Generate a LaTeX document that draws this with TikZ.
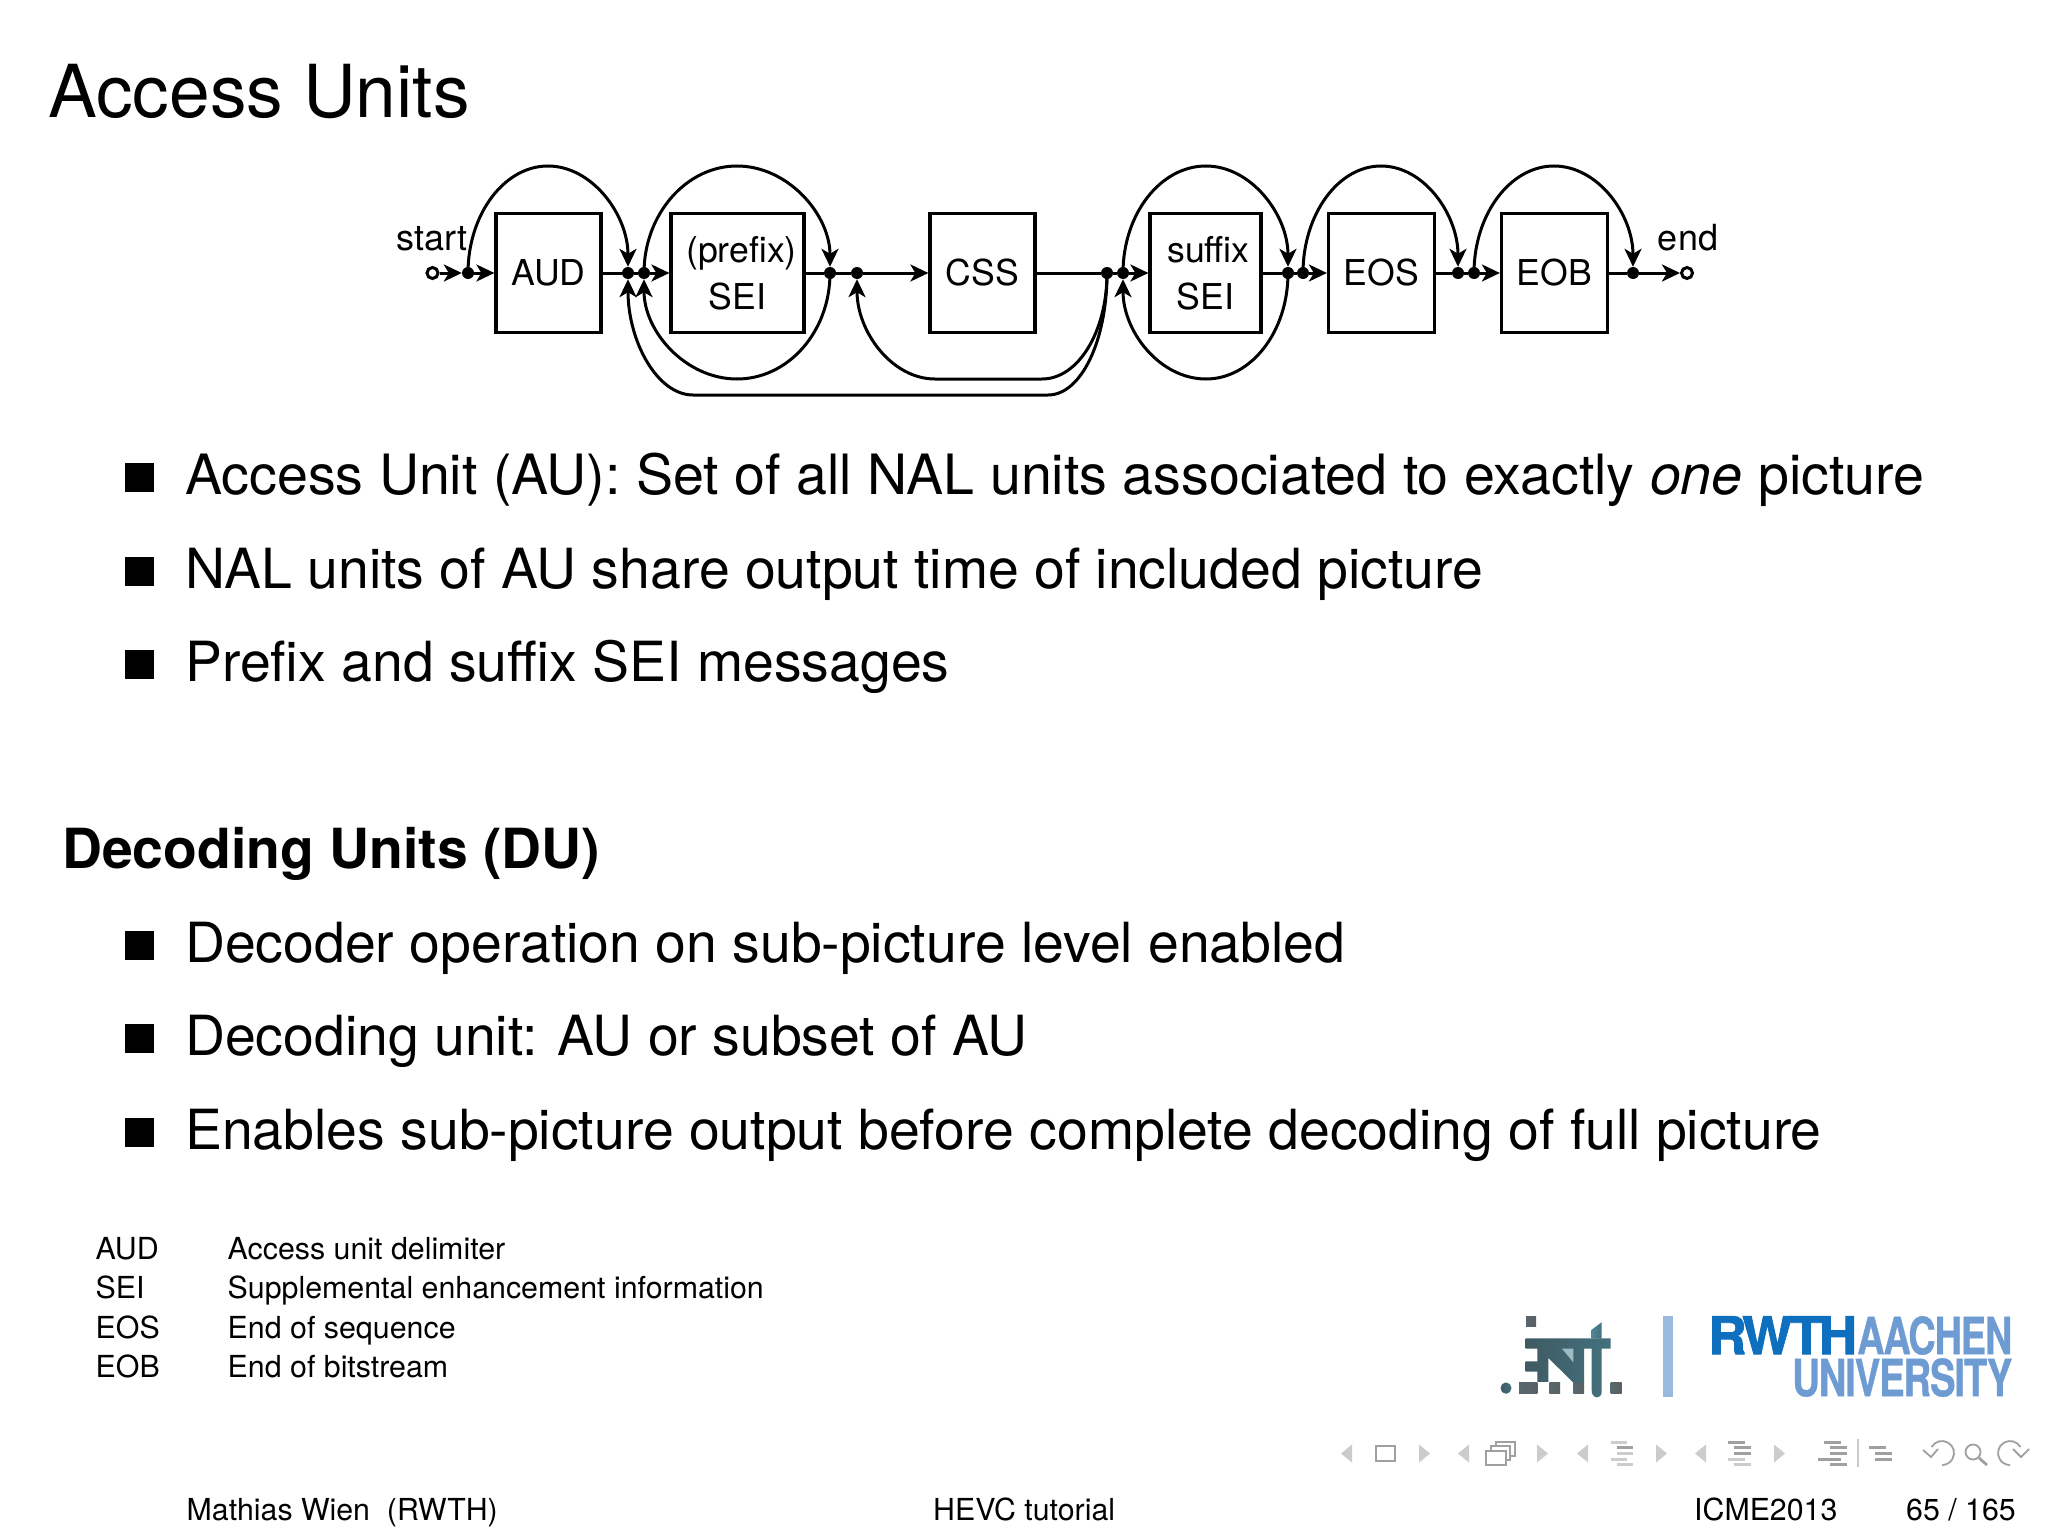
\documentclass[tikz,border=0pt]{standalone}
\usepackage{fontspec}
\usepackage{graphicx}
\setmainfont{TeX Gyre Heros}
\usetikzlibrary{arrows.meta,calc}
\definecolor{rwthdark}{HTML}{0F6FBF}
\definecolor{rwthlight}{HTML}{6E9BD2}
\definecolor{rwthbar}{HTML}{9BB8DD}
\definecolor{navlight}{HTML}{CCCCCC}
\definecolor{navdark}{HTML}{A0A0A0}
\definecolor{logoteal}{HTML}{4F8594}
\definecolor{logogray}{HTML}{5A6064}
\definecolor{logodark}{HTML}{3F5A62}
\tikzset{
  x=1pt,y=-1pt,
  conn/.style={line width=3pt,-{Stealth[length=18pt,width=17pt,inset=5pt]}},
  plain/.style={line width=3pt},
  unit/.style={draw,line width=3.2pt,inner sep=0pt,minimum height=119pt,align=center,font=\fontsize{35.6}{47}\selectfont},
  junction/.style={circle,fill=black,inner sep=0pt,minimum size=12pt},
  terminal/.style={circle,draw,fill=white,line width=3pt,inner sep=0pt,minimum size=11pt},
  flowlabel/.style={anchor=base,inner sep=0pt,font=\fontsize{36}{40}\selectfont},
  titletext/.style={anchor=base west,inner sep=0pt,font=\fontsize{73.1}{80}\selectfont},
  bodytext/.style={anchor=base west,inner sep=0pt,font=\fontsize{55.35}{60}\selectfont},
  headtext/.style={anchor=base west,inner sep=0pt,font=\fontsize{55.3}{60}\selectfont\bfseries},
  legendtext/.style={anchor=base west,inner sep=0pt,font=\fontsize{30.35}{34}\selectfont},
  foottext/.style={anchor=base west,inner sep=0pt,font=\fontsize{30.3}{36}\selectfont},
  bulletbox/.style={fill=black,minimum size=29pt,inner sep=0pt},
  navl/.style={fill=navlight},
  navd/.style={fill=navdark},
  navline/.style={draw=navdark,line width=1.8pt},
  logoshade/.style={left color=logodark,middle color=logoteal,right color=logoteal!85!black},
  logotext/.style={anchor=north west,inner sep=0pt,font=\bfseries},
}
\newcommand{\navleft}[1]{\fill[navl] (#1,1453.5) -- ++(11,-9) -- ++(0,18) -- cycle;}
\newcommand{\navright}[1]{\fill[navl] (#1,1444.5) -- ++(11,9) -- ++(-11,9) -- cycle;}
\newcommand{\navbar}[4]{\fill[#1] (#2,#4-1.5) rectangle (#3,#4+1.5);}
\newcommand{\logopart}[1]{\shade[left color=logogray!80!logoteal,right color=logogray] #1;}
\begin{document}
\begin{tikzpicture}
\useasboundingbox (0,0) rectangle (2048,1536);
\fill[white] (0,0) rectangle (2048,1536);

\node[titletext] (title) at (48,118) {Access Units};

% flow diagram
\node[unit,minimum width=105pt] (aud) at (548.5,273) {AUD};
\node[unit,minimum width=133pt] (psei) at (737.5,273) {\hspace{8pt}(prefix)\\SEI};
\node[unit,minimum width=105pt] (css) at (982.5,273) {CSS};
\node[unit,minimum width=111pt] (ssei) at (1205.5,273) {\hspace{6pt}suffix\\SEI};
\node[unit,minimum width=106pt] (eos) at (1381.5,273) {EOS};
\node[unit,minimum width=106pt] (eob) at (1554.5,273) {EOB};

\node[terminal] (start) at (432.5,273) {};
\node[terminal] (stop) at (1687,273) {};
\node[flowlabel] (startlabel) at (432,250.5) {start};
\node[flowlabel] (endlabel) at (1688,250.5) {end};

\foreach \n/\x in {d1/468,d2/628,d3/644,d4/830,d5/857,d6/1107,d7/1123,d8/1288,d9/1303,d10/1458,d11/1474,d12/1633}
  \node[junction] (\n) at (\x,273) {};

\coordinate (topa) at (548,166);
\coordinate (topb) at (737,166);
\coordinate (topc) at (1206,166);
\coordinate (topd) at (1381,166);
\coordinate (tope) at (1554,166);
\coordinate (botb) at (737,379);
\coordinate (botc) at (1206,379);
\coordinate (inl) at (935,379);
\coordinate (inr) at (1042,379);
\coordinate (outl) at (693,395);
\coordinate (outr) at (1048,395);

% straight connectors
\draw[conn] (start) -- (d1);
\draw[conn] (d1) -- (aud);
\draw[plain] (aud) -- (d2);
\draw[plain] (d2) -- (d3);
\draw[conn] (d3) -- (psei);
\draw[plain] (psei) -- (d4);
\draw[plain] (d4) -- (d5);
\draw[conn] (d5) -- (css);
\draw[plain] (css) -- (d6);
\draw[plain] (d6) -- (d7);
\draw[conn] (d7) -- (ssei);
\draw[plain] (ssei) -- (d8);
\draw[plain] (d8) -- (d9);
\draw[conn] (d9) -- (eos);
\draw[plain] (eos) -- (d10);
\draw[plain] (d10) -- (d11);
\draw[conn] (d11) -- (eob);
\draw[plain] (eob) -- (d12);
\draw[conn] (d12) -- (stop);

% skip arcs
\draw[conn] (d1.center) .. controls +(0,-58.5) and +(-44,0) .. (topa) .. controls +(44,0) and +(0,-58.5) .. (d2);
\draw[conn] (d3.center) .. controls +(0,-58.5) and +(-51,0) .. (topb) .. controls +(51,0) and +(0,-58.5) .. (d4);
\draw[conn] (d4.center) .. controls +(0,59) and +(51,0) .. (botb) .. controls +(-51,0) and +(0,59) .. (d3);
\draw[conn] (d7.center) .. controls +(0,-58.5) and +(-46,0) .. (topc) .. controls +(45,0) and +(0,-58.5) .. (d8);
\draw[conn] (d8.center) .. controls +(0,59) and +(45,0) .. (botc) .. controls +(-46,0) and +(0,59) .. (d7);
\draw[conn] (d9.center) .. controls +(0,-58.5) and +(-43,0) .. (topd) .. controls +(43,0) and +(0,-58.5) .. (d10);
\draw[conn] (d11.center) .. controls +(0,-58.5) and +(-44,0) .. (tope) .. controls +(44,0) and +(0,-58.5) .. (d12);
\draw[conn] (d6.center) .. controls +(0,59) and +(36,0) .. (inr) -- (inl) .. controls +(-43,0) and +(0,59) .. (d5);
\draw[conn] (d6.center) .. controls +(0,68) and +(33,0) .. (outr) -- (outl) .. controls +(-36,0) and +(0,68) .. (d2);

% bullets
\foreach \n/\y/\t in {b1/494.5/{\fontsize{55.55}{60}\selectfont Access Unit (AU): Set of all NAL units associated to exactly \textit{one} picture},
                      b2/588/{NAL units of AU share output time of included picture},
                      b3/681/{Prefix and suffix SEI messages},
                      b4/962/{Decoder operation on sub-picture level enabled},
                      b5/1055.5/{Decoding unit: AU or subset of AU},
                      b6/1149/{Enables sub-picture output before complete decoding of full picture}}{
  \node[bulletbox] (\n m) at (139.5,\y-17) {};
  \node[bodytext] (\n) at (185,\y) {\t};
}
\node[headtext] (dutitle) at (62,868) {Decoding Units (DU)};

% legend
\foreach \n/\y/\a/\b in {l1/1259.5/AUD/Access unit delimiter,
                         l2/1298/SEI/Supplemental enhancement information,
                         l3/1338.5/EOS/End of sequence,
                         l4/1377/EOB/End of bitstream}{
  \node[legendtext] (\n a) at (95.5,\y) {\a};
  \node[legendtext] (\n b) at (227.5,\y) {\b};
}

% footer
\node[foottext] (author) at (186.5,1520.5) {Mathias Wien\ \ (RWTH)};
\node[foottext] (talk) at (933,1520.5) {HEVC tutorial};
\node[foottext] (conf) at (1694,1520.5) {ICME2013};
\node[foottext] (page) at (1906,1520.5) {65 / 165};

% RWTH logo
\fill[rwthbar] (1663,1316) rectangle (1673,1397);
\node[logotext,text=rwthdark] (rwth) at (1708,1316) {\resizebox{149pt}{38pt}{\addfontfeature{LetterSpace=-7,FakeBold=1.5}RWTH}};
\node[logotext,text=rwthlight] (aachen) at (1857,1316) {\resizebox{155pt}{38pt}{\addfontfeature{LetterSpace=-3,FakeBold=0.8}AACHEN}};
\node[logotext,text=rwthlight] (univ) at (1792,1358) {\resizebox{220pt}{38pt}{\addfontfeature{LetterSpace=-3,FakeBold=0.8}UNIVERSITY}};

% institute logo
\begin{scope}[y=-1.03pt,yshift=39.48pt]
\shade[logoshade] (1506,1386) circle (5.5);
\logopart{(1526,1316) rectangle (1536,1326)}
\logopart{(1519,1381) rectangle (1537.3,1391)}
\logopart{(1549.3,1381) rectangle (1560,1391)}
\logopart{(1573.3,1381) rectangle (1584,1391)}
\logopart{(1610.7,1381) rectangle (1621.7,1391)}
\shade[logoshade] (1525.7,1337.7) -- (1610.7,1337.7) -- (1610.7,1347.7) -- (1601.7,1347.7) -- (1601.7,1390) .. controls (1601.7,1394) and (1598,1395) .. (1596.7,1395) .. controls (1593,1394) and (1591.7,1392) .. (1591.7,1388) -- (1591.7,1347.7) -- (1584,1347.7) -- (1584,1380.7) -- (1573.3,1380.7) -- (1548.3,1356.7) -- (1548.3,1380) -- (1537.3,1380) -- (1537.3,1370) -- (1525.7,1370) -- (1525.7,1360) -- (1537.3,1360) -- (1537.3,1347.7) -- (1525.7,1347.7) -- cycle;
\shade[left color=logoteal,right color=logoteal!85!black] (1591.7,1338) -- (1591.7,1329.3) -- (1601.7,1322) -- (1601.7,1338) -- cycle;
\fill[logoteal!55!white] (1562,1347.7) -- (1573.3,1347.7) -- (1573.3,1361) -- cycle;
\end{scope}

% navigation symbols
\navleft{1341}
\draw[draw=navdark,line width=2pt] (1376,1446) rectangle (1395,1461);
\navright{1419}
\navleft{1458}
\draw[draw=navdark,line width=1.6pt,fill=white] (1496,1442) rectangle (1515,1456);
\draw[draw=navdark,line width=1.6pt,fill=white] (1491,1446) rectangle (1510,1460);
\draw[draw=navdark,line width=2pt,fill=white] (1486,1451) rectangle (1506,1465);
\navright{1537}
\navleft{1577}
\navbar{navl}{1611}{1627}{1442}
\navbar{navd}{1617}{1633}{1447}
\navbar{navl}{1617}{1633}{1453}
\navbar{navl}{1611}{1627}{1459}
\navbar{navl}{1617}{1633}{1464}
\navright{1656}
\navleft{1695}
\navbar{navd}{1728}{1745}{1442}
\navbar{navd}{1734}{1751}{1447}
\navbar{navd}{1734}{1751}{1453}
\navbar{navl}{1728}{1745}{1459}
\navbar{navl}{1734}{1751}{1464}
\navright{1774}
\navbar{navd}{1824}{1841}{1442}
\navbar{navd}{1830}{1847}{1447}
\navbar{navd}{1830}{1847}{1453}
\navbar{navd}{1818}{1841}{1459}
\navbar{navd}{1830}{1847}{1464}
\draw[navlight,line width=1.5pt] (1858,1439) -- (1858,1467);
\navbar{navd}{1869}{1886}{1447}
\navbar{navd}{1875}{1892}{1453}
\navbar{navd}{1875}{1892}{1459}
% back, find, forward
\draw[navline] (1931.6,1447) arc[start angle=150,end angle=-90,radius=12pt];
\draw[navline] (1923,1450) -- (1931,1457) -- (1938,1449);
\draw[navline] (1973,1452) circle (7.5);
\draw[navdark,line width=2.8pt] (1979,1458) -- (1987,1465);
\draw[navline] (2020.4,1447) arc[start angle=30,end angle=270,radius=12pt];
\draw[navline] (2013,1449) -- (2021,1457) -- (2029,1449);
\end{tikzpicture}
\end{document}
